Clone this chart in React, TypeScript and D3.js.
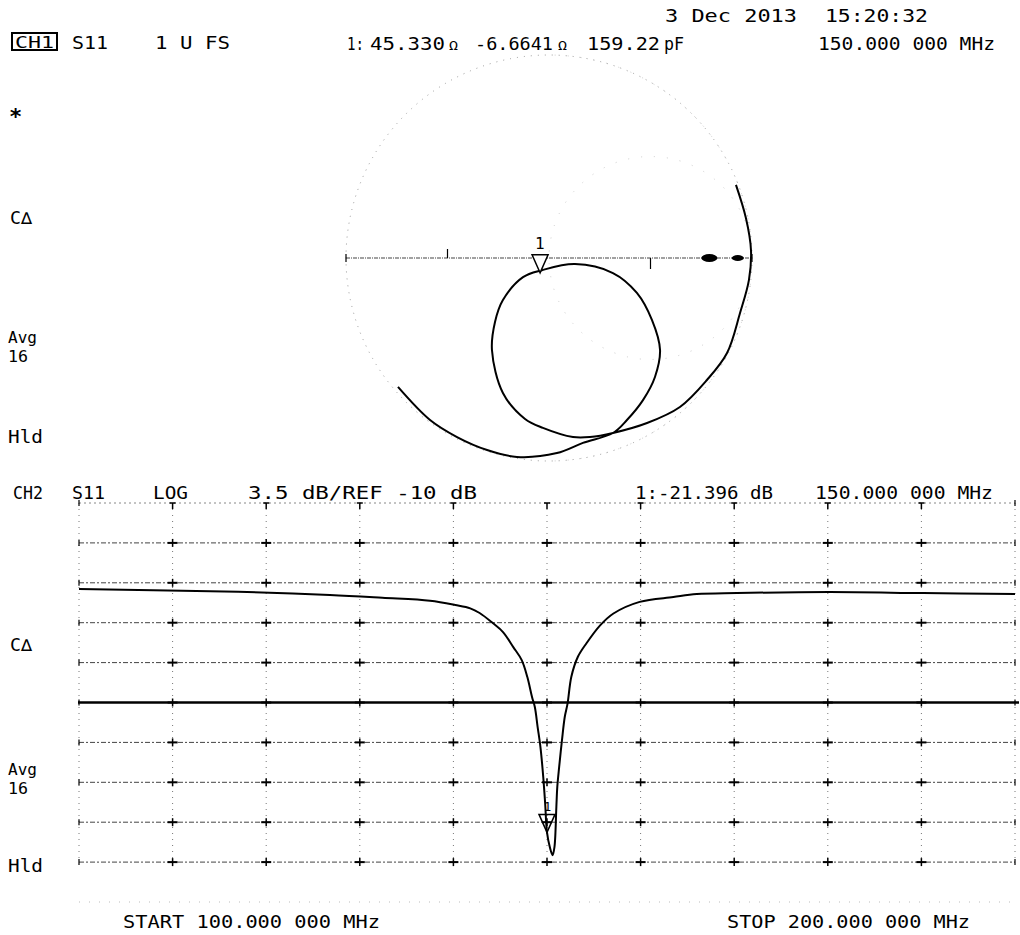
import React from "react";
import * as d3 from "d3";

// ---------- DATA ----------
// Smith chart trace (reflection coefficient, real / imaginary), in sweep order
const smithRe = [0.921, 0.970, 0.995, 0.985, 0.941, 0.877, 0.778, 0.645, 0.483, 0.315, 0.202, 0.118, -0.030, -0.118, -0.227, -0.281, -0.266, -0.227, -0.128, -0.035, 0.128, 0.315, 0.433, 0.507, 0.547, 0.522, 0.463, 0.384, 0.315, 0.167, 0.039, -0.158, -0.305, -0.453, -0.586, -0.744];
const smithIm = [0.360, 0.197, 0.039, -0.108, -0.271, -0.468, -0.601, -0.734, -0.813, -0.862, -0.882, -0.882, -0.837, -0.793, -0.665, -0.453, -0.315, -0.207, -0.094, -0.060, -0.030, -0.074, -0.172, -0.305, -0.453, -0.586, -0.700, -0.798, -0.862, -0.911, -0.961, -0.980, -0.946, -0.882, -0.798, -0.635];
const smithMarker = [-0.044, -0.073];
const smithBlobRe = [0.79, 0.93];

// Log magnitude trace
const freqMHz = [100, 117.0, 126.8, 132.4, 137.5, 140.2, 141.8, 142.8, 144.2, 145.3, 146.4, 147.3, 147.9, 148.4, 148.7, 149.0, 149.3, 149.6, 149.8, 150.0, 150.3, 150.6, 150.8, 151.0, 151.1, 151.3, 151.6, 151.9, 152.2, 152.6, 153.3, 154.2, 155.7, 157.1, 159.9, 163.5, 166.0, 170.3, 180.2, 190.2, 200];
const s11dB = [-0.05, -0.29, -0.57, -0.82, -1.08, -1.45, -1.74, -2.15, -3.03, -3.82, -5.14, -6.28, -7.77, -9.52, -10.40, -12.16, -13.91, -16.54, -18.82, -21.40, -22.68, -23.39, -22.66, -19.16, -17.40, -15.65, -13.30, -11.25, -10.08, -7.74, -5.99, -4.82, -3.21, -2.19, -1.17, -0.75, -0.49, -0.40, -0.31, -0.40, -0.48];
const markerFreq = 150;
const markerDB = -21.396;

const startMHz = 100;
const stopMHz = 200;
const refDB = -10;
const dbPerDiv = 3.5;
const nDivX = 10;
const nDivY = 10;

// ---------- TEXT ----------
const headerDate = "3 Dec 2013";
const headerTime = "15:20:32";

const FONT = "'DejaVu Sans Mono', 'Liberation Mono', monospace";

function T(props: { x: number; y: number; len?: number; size?: number; weight?: string; children: any; anchor?: string }) {
  const { x, y, len, size = 17, weight = "normal", children, anchor } = props;
  return (
    <text
      x={x}
      y={y}
      fontFamily={FONT}
      fontSize={size}
      fontWeight={weight}
      fill="#000"
      textLength={len}
      lengthAdjust={len ? "spacingAndGlyphs" : undefined}
      textAnchor={anchor}
      style={{ whiteSpace: "pre" }}
    >
      {children}
    </text>
  );
}

export default function App() {
  // Smith chart scales
  const sx = d3.scaleLinear().domain([-1, 1]).range([346, 752]);
  const sy = d3.scaleLinear().domain([-1, 1]).range([461, 55]);
  const cx = sx(0);
  const cy = sy(0);
  const R = sx(1) - sx(0);

  const smithPts: [number, number][] = smithRe.map((r, i) => [sx(r), sy(smithIm[i])]);
  const smithLine = d3.line().curve(d3.curveCatmullRom.alpha(0.5))(smithPts) || "";

  const rCirc = { cx: sx(0.5), cy: sy(0), r: sx(1) - sx(0.5) };
  const xArc = (sign: number) => {
    const p0 = [sx(1), sy(0)];
    const p1 = [sx(0), sy(sign)];
    return `M${p0[0]},${p0[1]} A${R},${R} 0 0 ${sign > 0 ? 0 : 1} ${p1[0]},${p1[1]}`;
  };

  const mkx = sx(smithMarker[0]);
  const mky = sy(smithMarker[1]);

  // Log magnitude scales
  const x = d3.scaleLinear().domain([startMHz, stopMHz]).range([79, 1015]);
  const top = refDB + (nDivY / 2) * dbPerDiv;
  const bot = refDB - (nDivY / 2) * dbPerDiv;
  const y = d3.scaleLinear().domain([bot, top]).range([902, 503]);

  const logPts: [number, number][] = freqMHz.map((f, i) => [x(f), y(s11dB[i])]);
  const logLine = d3.line().curve(d3.curveCatmullRom.alpha(0.5))(logPts) || "";

  const xTicks = d3.range(nDivX + 1).map((i) => startMHz + (i * (stopMHz - startMHz)) / nDivX);
  const yTicks = d3.range(nDivY + 1).map((j) => top - j * dbPerDiv);

  const lmx = x(markerFreq);
  const lmy = y(markerDB);

  return (
    <svg width={1020} height={935} style={{ position: "absolute", left: 0, top: 0, background: "#fff" }}>
      <rect width={1020} height={935} fill="#fff" />

      {/* ---------- Header CH1 ---------- */}
      <T x={665} y={22} len={132}>{headerDate}</T>
      <T x={825} y={22} len={103}>{headerTime}</T>

      <rect x={12} y={33} width={45} height={17} fill="none" stroke="#000" strokeWidth={2} />
      <T x={15} y={48} len={39} size={15}>CH1</T>
      <T x={72} y={49} len={36}>S11</T>
      <T x={155} y={49} len={75}>1 U FS</T>
      <T x={347} y={50} len={17}>1:</T>
      <T x={370} y={50} len={75}>45.330</T>
      <T x={449} y={50} len={9} size={12}>Ω</T>
      <T x={475} y={50} len={78}>-6.6641</T>
      <T x={558} y={50} len={9} size={12}>Ω</T>
      <T x={587} y={50} len={73}>159.22</T>
      <T x={664} y={50} len={20}>pF</T>
      <T x={818} y={50} len={177}>150.000 000 MHz</T>

      {/* side labels upper */}
      <T x={9} y={124} size={22} weight="bold">*</T>
      <T x={10} y={224} len={22}>C∆</T>
      <T x={8} y={343} len={29} size={16}>Avg</T>
      <T x={8} y={362} len={20} size={15}>16</T>
      <T x={8} y={443} len={35}>Hld</T>

      {/* ---------- Smith chart ---------- */}
      <circle cx={cx} cy={cy} r={R} fill="none" stroke="#999" strokeWidth={1} strokeDasharray="1 6" />
      <circle cx={rCirc.cx} cy={rCirc.cy} r={rCirc.r} fill="none" stroke="#ccc" strokeWidth={1} strokeDasharray="1 12" />
      <path d={xArc(1)} fill="none" stroke="#ccc" strokeWidth={1} strokeDasharray="1 12" />
      <path d={xArc(-1)} fill="none" stroke="#ccc" strokeWidth={1} strokeDasharray="1 12" />
      <line x1={sx(-1)} x2={sx(1)} y1={cy} y2={cy} stroke="#444" strokeWidth={1.2} strokeDasharray="4 1 1 1" />
      <line x1={sx(-1)} x2={sx(-1)} y1={cy - 4} y2={cy + 4} stroke="#000" strokeWidth={1.2} />
      <line x1={sx(1)} x2={sx(1)} y1={cy - 4} y2={cy + 4} stroke="#000" strokeWidth={1.2} />
      <line x1={sx(-0.5)} x2={sx(-0.5)} y1={cy - 9} y2={cy} stroke="#000" strokeWidth={1.2} />
      <line x1={sx(0.5)} x2={sx(0.5)} y1={cy} y2={cy + 11} stroke="#000" strokeWidth={1.2} />
      {smithBlobRe.map((r, i) => (
        <ellipse key={i} cx={sx(r)} cy={cy} rx={i === 0 ? 8 : 6} ry={i === 0 ? 4 : 3} fill="#000" />
      ))}

      <path d={smithLine} fill="none" stroke="#000" strokeWidth={2} strokeLinejoin="round" />

      <path
        d={`M${mkx},${mky} L${mkx - 8},${mky - 18} L${mkx + 8},${mky - 18} Z`}
        fill="#fff"
        stroke="#000"
        strokeWidth={1.5}
      />
      <T x={mkx - 5} y={mky - 24} size={16}>1</T>

      {/* ---------- Header CH2 ---------- */}
      <T x={13} y={499} len={30}>CH2</T>
      <T x={72} y={499} len={33}>S11</T>
      <T x={153} y={499} len={35}>LOG</T>
      <T x={248} y={499} len={229}>3.5 dB/REF -10 dB</T>
      <T x={635} y={499} len={138}>1:-21.396 dB</T>
      <T x={815} y={499} len={178}>150.000 000 MHz</T>

      {/* side labels lower */}
      <T x={10} y={651} len={22}>C∆</T>
      <T x={8} y={775} len={29} size={16}>Avg</T>
      <T x={8} y={794} len={20} size={15}>16</T>
      <T x={8} y={872} len={35}>Hld</T>

      {/* ---------- Log magnitude grid ---------- */}
      {xTicks.map((f, i) => (
        <line
          key={"v" + i}
          x1={x(f)}
          x2={x(f)}
          y1={y(yTicks[0])}
          y2={y(yTicks[nDivY - 1])}
          stroke="#777"
          strokeWidth={1}
          strokeDasharray="1 5"
        />
      ))}
      {yTicks.map((v, j) => {
        if (j === nDivY / 2) return null;
        const light = j === 0 || j === nDivY;
        return (
          <line
            key={"h" + j}
            x1={x(startMHz)}
            x2={x(stopMHz)}
            y1={y(v)}
            y2={y(v)}
            stroke={j === nDivY ? "#bbb" : light ? "#888" : "#444"}
            strokeWidth={1}
            strokeDasharray={j === nDivY ? "1 9" : light ? "2 3" : "5 2 2 2"}
          />
        );
      })}
      {xTicks.map((f, i) =>
        yTicks.slice(0, nDivY).map((v, j) => {
          const px = x(f);
          const py = y(v);
          if (i === 0 || i === nDivX) {
            return <line key={`c${i}-${j}`} x1={px} x2={px} y1={py - 3} y2={py + 3} stroke="#000" strokeWidth={1.2} />;
          }
          if (j === 0) {
            return (
              <g key={`c${i}-${j}`}>
                <line x1={px} x2={px} y1={py} y2={py + 6} stroke="#000" strokeWidth={1.5} />
                <line x1={px - 3} x2={px + 3} y1={py} y2={py} stroke="#000" strokeWidth={1.5} />
              </g>
            );
          }
          return (
            <g key={`c${i}-${j}`}>
              <line x1={px} x2={px} y1={py - 4} y2={py + 4} stroke="#000" strokeWidth={1.5} />
              <line x1={px - 5} x2={px + 5} y1={py} y2={py} stroke="#000" strokeWidth={2} />
            </g>
          );
        })
      )}
      <line x1={x(startMHz) - 1} x2={x(stopMHz) + 4} y1={y(refDB)} y2={y(refDB)} stroke="#000" strokeWidth={2.5} />

      <path d={logLine} fill="none" stroke="#000" strokeWidth={2} strokeLinejoin="round" />

      <path
        d={`M${lmx},${lmy} L${lmx - 8},${lmy - 18} L${lmx + 8},${lmy - 18} Z`}
        fill="none"
        stroke="#000"
        strokeWidth={1.5}
      />
      <T x={lmx - 3} y={lmy - 21} size={12}>1</T>

      <T x={123} y={928} len={257}>START 100.000 000 MHz</T>
      <T x={727} y={928} len={243}>STOP 200.000 000 MHz</T>
    </svg>
  );
}
